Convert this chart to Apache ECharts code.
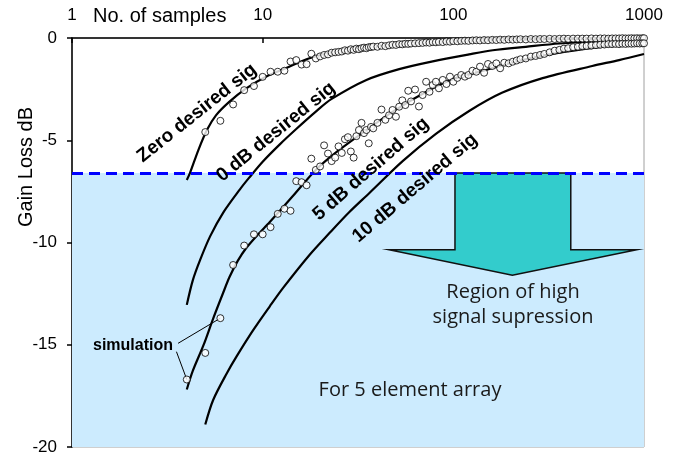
<!DOCTYPE html>
<html>
<head>
<meta charset="utf-8">
<script src="https://cdn.jsdelivr.net/npm/echarts@6/dist/echarts.min.js"></script>
<style>
  html, body { margin: 0; padding: 0; background: #fff; }
  #chart { width: 694px; height: 457px; }
</style>
</head>
<body>
<div id="chart"></div>
<script>
// axis ticks
const xTicks = [1, 10, 100, 1000];
const yTicks = [0, -5, -10, -15, -20];
const suppressionLevel = -6.6;

// theory curves (No. of samples, gain loss dB)
const thZeroN = [4, 4.15, 4.6, 5.1, 5.7, 6.7, 8.2, 10.4, 13.2, 17.6, 23, 35, 52, 78, 116, 200, 350, 600, 1000];
const thZeroDb = [-6.94, -6.62, -5.48, -4.5, -3.77, -3.11, -2.46, -1.89, -1.48, -0.99, -0.72, -0.47, -0.31, -0.21, -0.14, -0.08, -0.05, -0.03, -0.02];

const th0N = [4, 4.3, 4.7, 5.3, 6.2, 7.6, 8.5, 10, 12.3, 15, 19, 23, 35, 52, 78, 121, 161, 240, 360, 600, 1000];
const th0Db = [-13.05, -11.85, -10.85, -9.7, -8.55, -7.4, -6.83, -6.05, -5.2, -4.45, -3.6, -2.98, -2.05, -1.52, -1.14, -0.8, -0.6, -0.43, -0.27, -0.16, -0.1];

const th5N = [4, 4.3, 4.9, 5.5, 6.2, 6.7, 7.4, 8.2, 9.4, 10.9, 14.4, 19.1, 25, 35, 50, 75, 100, 150, 200, 300, 500, 700, 1000];
const th5Db = [-17.19, -16.28, -15.01, -13.72, -12.47, -11.69, -10.9, -10.27, -9.63, -9.0, -7.73, -6.43, -5.5, -4.5, -3.5, -2.54, -2.0, -1.55, -1.22, -0.85, -0.52, -0.38, -0.27];

const th10N = [5, 5.5, 6.5, 7.3, 8.9, 10.9, 12.8, 17.6, 22.4, 28.5, 36.3, 54.4, 81, 121, 181, 294, 535, 740, 1000];
const th10Db = [-18.9, -17.7, -16.38, -15.57, -14.3, -13.12, -12.22, -10.61, -9.54, -8.51, -7.58, -6.01, -4.69, -3.57, -2.67, -1.96, -1.37, -1.08, -0.78];

// simulation points
const simN = [4, 5, 6, 7, 8, 9, 10, 11, 12, 13, 14, 15, 16, 17, 18, 19, 20, 21, 22, 23, 24, 25, 26, 27, 28, 29, 30,
  31, 32, 33, 34, 35, 36, 37, 38, 40, 42, 44, 46, 48, 50, 52, 54, 56, 58, 60, 63, 66, 69, 72, 75, 78, 81, 84, 88,
  92, 96, 100, 105, 110, 115, 120, 126, 132, 138, 145, 152, 160, 168, 176, 185, 195, 205, 215, 225, 240, 255, 270,
  285, 300, 320, 340, 360, 380, 400, 425, 450, 475, 500, 530, 560, 590, 620, 650, 680, 710, 740, 770, 800, 830, 860,
  890, 920, 950, 980, 1000];
const simZeroDb = [null, -4.6, -4.05, -3.25, -2.55, -2.35, -1.9, -1.65, -1.65, -1.6, -1.15, -1.08, -1.3, -1.28, -0.77, -1.0, -0.9,
  -0.83, -0.8, -0.72, -0.7, -0.68, -0.66, -0.6, -0.62, -0.55, -0.58, -0.52, -0.55, -0.5, -0.47, -0.5, -0.45, -0.44, -0.42,
  -0.43, -0.38, -0.4, -0.36, -0.33, -0.34, -0.3, -0.31, -0.28, -0.29, -0.27, -0.26, -0.25, -0.24, -0.22, -0.23, -0.2, -0.21,
  -0.19, -0.2, -0.17, -0.18, -0.15, -0.16, -0.14, -0.13, -0.14, -0.12, -0.11, -0.12, -0.1, -0.11, -0.09, -0.1, -0.08, -0.09,
  -0.07, -0.08, -0.07, -0.06, -0.07, -0.05, -0.06, -0.05, -0.05, -0.04, -0.05, -0.04, -0.03, -0.04, -0.03, -0.03, -0.03, -0.03,
  -0.02, -0.03, -0.02, -0.02, -0.03, -0.02, -0.02, -0.02, -0.01, -0.02, -0.02, -0.01, -0.02, -0.01, -0.02, -0.01, -0.01];
const sim5Db = [-16.7, -15.4, -13.7, -11.1, -10.15, -9.6, -9.6, -9.25, -8.6, -8.35, -8.45, -7.0, -7.05, -7.2, -5.9, -6.45, -6.28,
  -5.25, -5.65, -6.02, -5.85, -5.3, -5.62, -4.95, -4.85, -5.55, -5.85, -4.8, -4.5, -4.15, -4.65, -4.5, -5.15, -4.35, -4.42,
  -4.15, -3.5, -4.0, -3.78, -3.52, -3.85, -3.36, -3.05, -3.28, -2.58, -3.1, -2.52, -3.35, -2.79, -2.14, -2.63, -2.3, -2.14,
  -2.46, -2.05, -2.25, -1.89, -2.14, -1.95, -1.81, -1.89, -1.81, -1.6, -1.65, -1.4, -1.7, -1.27, -1.37, -1.24, -1.48, -1.21,
  -1.24, -1.16, -1.1, -1.04, -1.0, -0.91, -0.88, -0.83, -0.78, -0.7, -0.62, -0.58, -0.52, -0.5, -0.45, -0.43, -0.4, -0.39,
  -0.37, -0.35, -0.33, -0.32, -0.3, -0.3, -0.29, -0.3, -0.28, -0.29, -0.27, -0.28, -0.27, -0.26, -0.27, -0.26, -0.26];

// "simulation" leader lines: from label end to the pointed circles
const leaderFromN = [3.6, 3.53];
const leaderFromDb = [-14.93, -15.34];
const leaderToN = [6, 4];
const leaderToDb = [-13.7, -16.7];

// region arrow outline (data coords)
const arrowN = [102, 413, 413, 916, 204, 46, 102];
const arrowDb = [-6.6, -6.6, -10.35, -10.35, -11.6, -10.35, -10.35];

const pairs = (xs, ys) => xs.map((x, i) => [x, ys[i]]).filter(p => p[1] !== null);

const chart = echarts.init(document.getElementById('chart'), null, { renderer: 'canvas' });

const FONT = '"Liberation Sans", Arial, sans-serif';
const NOTE_FONT = '20px "Open Sans", sans-serif';
const lineStyle = { color: '#000', width: 2.2 };
const circle = { color: '#fff', borderColor: '#000', borderWidth: 1 };

const theory = (name, xs, ys) => ({
  name,
  type: 'line',
  data: pairs(xs, ys),
  smooth: 0.3,
  showSymbol: false,
  symbol: 'none',
  lineStyle,
  z: 4,
  silent: true
});

const label = (text, x, y, deg, font, extra) => ({
  type: 'text', x, y, z: 10,
  rotation: deg * Math.PI / 180,
  style: Object.assign({ text, font, fill: '#000', align: 'center', verticalAlign: 'middle' }, extra || {})
});

const option = {
  animation: false,
  backgroundColor: '#fff',
  textStyle: { fontFamily: FONT },
  grid: {
    left: 72, top: 38, width: 572, height: 409,
    show: true, borderColor: '#a0a0a0', borderWidth: 1, backgroundColor: 'transparent'
  },
  xAxis: {
    type: 'log',
    logBase: 10,
    min: xTicks[0],
    max: xTicks[xTicks.length - 1],
    position: 'top',
    axisLine: { lineStyle: { color: '#000', width: 1.5 } },
    axisTick: { inside: true, length: 5, lineStyle: { color: '#000', width: 1.5 } },
    minorTick: { show: false },
    splitLine: { show: false },
    axisLabel: {
      fontSize: 17, color: '#000', margin: 14, fontFamily: FONT,
      formatter: v => String(Math.round(v))
    }
  },
  yAxis: {
    type: 'value',
    min: yTicks[yTicks.length - 1],
    max: yTicks[0],
    interval: 5,
    axisLine: { show: true, lineStyle: { color: '#000', width: 1.5 } },
    axisTick: { show: true, length: 5, lineStyle: { color: '#000', width: 1.5 } },
    splitLine: { show: false },
    axisLabel: { fontSize: 17, color: '#000', margin: 15, fontFamily: FONT }
  },
  series: [
    {
      // shaded region of high signal suppression
      type: 'line',
      data: [],
      z: 1,
      silent: true,
      markArea: {
        silent: true,
        itemStyle: { color: '#CCEBFE', opacity: 1 },
        data: [[{ yAxis: suppressionLevel }, { yAxis: yTicks[yTicks.length - 1] }]]
      }
    },
    {
      type: 'custom',
      z: 2,
      silent: true,
      data: [[arrowN[0], arrowDb[0]]],
      renderItem: (params, api) => ({
        type: 'polygon',
        shape: { points: arrowN.map((n, i) => api.coord([n, arrowDb[i]])) },
        style: { fill: '#33CCCC', stroke: '#111', lineWidth: 1.5 }
      })
    },
    {
      type: 'line',
      data: [],
      z: 3,
      silent: true,
      markLine: {
        silent: true,
        symbol: 'none',
        label: { show: false },
        lineStyle: { color: '#0000FF', width: 3, type: [11, 6] },
        data: [{ yAxis: suppressionLevel }]
      }
    },
    theory('Zero desired sig', thZeroN, thZeroDb),
    theory('0 dB desired sig', th0N, th0Db),
    theory('5 dB desired sig', th5N, th5Db),
    theory('10 dB desired sig', th10N, th10Db),
    {
      name: 'sim zero',
      type: 'scatter',
      data: pairs(simN, simZeroDb),
      symbol: 'circle',
      symbolSize: 7,
      itemStyle: circle,
      z: 5,
      silent: true
    },
    {
      name: 'sim 5 dB',
      type: 'scatter',
      data: pairs(simN, sim5Db),
      symbol: 'circle',
      symbolSize: 7,
      itemStyle: circle,
      z: 5,
      silent: true,
      markLine: {
        silent: true,
        symbol: 'none',
        label: { show: false },
        lineStyle: { color: '#000', width: 1, type: 'solid' },
        data: leaderFromN.map((n, i) => [
          { coord: [n, leaderFromDb[i]] },
          { coord: [leaderToN[i], leaderToDb[i]] }
        ])
      }
    }
  ],
  graphic: [
    label('No. of samples', 93, 16, 0, '20px ' + FONT, { align: 'left' }),
    label('Gain Loss dB', 26, 167, 90, '20px ' + FONT),
    label('Zero desired sig', 197, 113, 38.5, 'bold 19px ' + FONT),
    label('0 dB desired sig', 276, 132, 39, 'bold 19px ' + FONT),
    label('5 dB desired sig', 371, 169, 41, 'bold 19px ' + FONT),
    label('10 dB desired sig', 415, 188, 40.5, 'bold 19px ' + FONT),
    label('simulation', 93, 346, 0, 'bold 16px ' + FONT, { align: 'left' }),
    label('Region of high', 513, 292, 0, NOTE_FONT, { fill: '#1a1a1a' }),
    label('signal supression', 513, 317, 0, NOTE_FONT, { fill: '#1a1a1a' }),
    label('For 5 element array', 410, 390, 0, NOTE_FONT, { fill: '#1a1a1a' })
  ]
};

chart.setOption(option);
</script>
</body>
</html>
